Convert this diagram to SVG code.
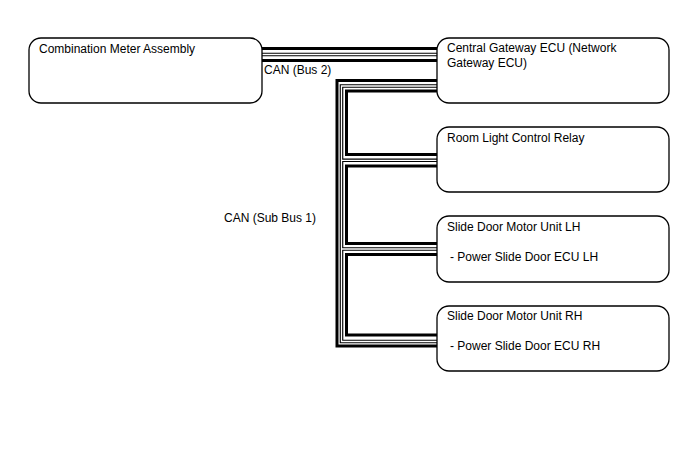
<svg xmlns="http://www.w3.org/2000/svg" width="688" height="463" viewBox="0 0 688 463">
<style>
.box{fill:#fff;stroke:#000;stroke-width:1.3}
.t{font-family:"Liberation Sans",Arial,sans-serif;font-size:12px;fill:#000}
.thick{fill:none;stroke:#000;stroke-width:3}
.tubeo{fill:none;stroke:#000;stroke-width:3.6}
.tubei{fill:none;stroke:#fff;stroke-width:1.3}
</style>
<rect width="688" height="463" fill="#fff"/>
<g id="connectors">
  <!-- Bus 2 -->
  <path class="thick" d="M262 48.5H437"/>
  <path class="tubeo" d="M262 54.5H437"/>
  <path class="tubei" d="M262 54.5H437"/>
  <path class="thick" d="M262 60.5H437"/>
  <!-- Sub Bus 1 outer -->
  <path class="thick" d="M437 80.5H337V346H437"/>
  <!-- inner thick segments -->
  <path class="thick" d="M437 91H346.5V154.5H437"/>
  <path class="thick" d="M437 166H346.5V243.5H437"/>
  <path class="thick" d="M437 254.5H346.5V335H437"/>
  <!-- tube -->
  <path class="tubeo" d="M437 86H341.5V341.5H437M341.5 160.3H437M341.5 249H437"/>
  <path class="tubei" d="M437 86H341.5V341.5H437M341.5 160.3H437M341.5 249H437"/>
</g>
<g id="combination-meter">
  <rect class="box" x="29" y="38" width="233" height="65" rx="12"/>
  <text class="t" x="39" y="53">Combination Meter Assembly</text>
</g>
<g id="central-gateway">
  <rect class="box" x="437" y="38" width="232" height="65" rx="12"/>
  <text class="t" x="447" y="52">Central Gateway ECU (Network</text>
  <text class="t" x="447" y="67">Gateway ECU)</text>
</g>
<g id="room-light">
  <rect class="box" x="437" y="127" width="232" height="65" rx="12"/>
  <text class="t" x="447" y="142">Room Light Control Relay</text>
</g>
<g id="slide-door-lh">
  <rect class="box" x="437" y="216" width="232" height="66" rx="12"/>
  <text class="t" x="447" y="231">Slide Door Motor Unit LH</text>
  <text class="t" x="450" y="261">- Power Slide Door ECU LH</text>
</g>
<g id="slide-door-rh">
  <rect class="box" x="437" y="306" width="232" height="65" rx="12"/>
  <text class="t" x="447" y="320">Slide Door Motor Unit RH</text>
  <text class="t" x="450" y="350">- Power Slide Door ECU RH</text>
</g>
<g id="labels">
  <text class="t" x="264" y="74">CAN (Bus 2)</text>
  <text class="t" x="224" y="222">CAN (Sub Bus 1)</text>
</g>
</svg>
